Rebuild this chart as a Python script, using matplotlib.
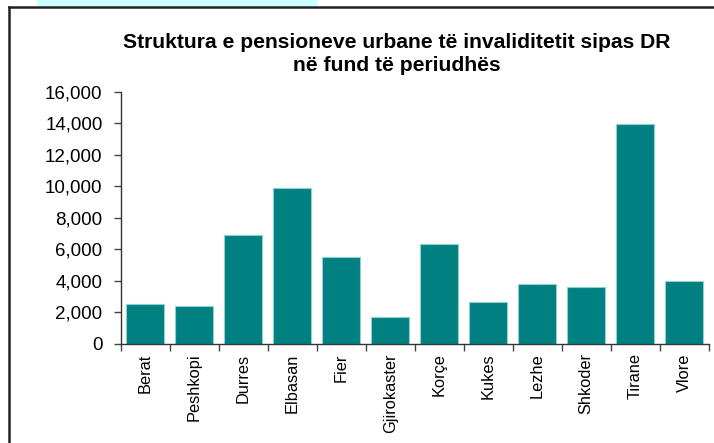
import matplotlib.pyplot as plt
from matplotlib.patches import Rectangle
from matplotlib.lines import Line2D
from matplotlib.ticker import FuncFormatter, FixedLocator
import numpy as np

plt.rcParams['font.family'] = ['Liberation Sans', 'DejaVu Sans']

# District data
districts = ['Berat', 'Peshkopi', 'Durres', 'Elbasan', 'Fier', 'Gjirokaster',
             'Korçe', 'Kukes', 'Lezhe', 'Shkoder', 'Tirane', 'Vlore']
pensions = [2500, 2390, 6880, 9870, 5490, 1700,
            6310, 2630, 3770, 3600, 13930, 4000]
yticks = [0, 2000, 4000, 6000, 8000, 10000, 12000, 14000, 16000]

fig = plt.figure(figsize=(7.14, 4.43), dpi=100)
ax = fig.add_axes([0.169, 0.2242, 0.8236, 0.5688])

x = np.arange(len(districts))
ax.bar(x, pensions, width=0.78, color='#008080', edgecolor='#8fd0d0', linewidth=0.8)

ax.set_xlim(-0.5, len(districts) - 0.5)
ax.set_ylim(0, 16000)
ax.set_yticks(yticks)
ax.yaxis.set_major_formatter(FuncFormatter(lambda v, p: '{:,.0f}'.format(v)))

# ticks between categories, labels centred under bars
ax.xaxis.set_major_locator(FixedLocator(np.arange(-0.5, len(districts), 1.0)))
ax.xaxis.set_major_formatter(FuncFormatter(lambda v, p: ''))
ax.xaxis.set_minor_locator(FixedLocator(x))
ax.set_xticklabels(districts, minor=True, rotation=90, fontsize=11.8)
ax.tick_params(axis='x', which='minor', length=0, pad=7)
ax.tick_params(axis='x', which='major', length=5, width=1, color='#444444')
ax.tick_params(axis='y', length=5, width=1, color='#444444', labelsize=13.5, pad=8)

for s in ['top', 'right']:
    ax.spines[s].set_visible(False)
for s in ['left', 'bottom']:
    ax.spines[s].set_color('#333333')
    ax.spines[s].set_linewidth(1.0)

fig.text(0.556, 0.878, 'Struktura e pensioneve urbane të invaliditetit sipas DR\nnë fund të periudhës',
         ha='center', va='center', fontsize=15.2, fontweight='bold', linespacing=1.22)

# cyan strip at top and outer frame
fig.patches.append(Rectangle((37 / 714, 1 - 6 / 443), 281 / 714, 6 / 443,
                             transform=fig.transFigure, facecolor='#ccffff',
                             edgecolor='none', zorder=0))
fig.lines.append(Line2D([9 / 714, 1.0], [1 - 7 / 443, 1 - 7 / 443],
                        transform=fig.transFigure, color='#222222', linewidth=1.8))
fig.lines.append(Line2D([9 / 714, 9 / 714], [0, 1 - 7 / 443],
                        transform=fig.transFigure, color='#222222', linewidth=1.8))

fig.savefig('out.png', dpi=100)
